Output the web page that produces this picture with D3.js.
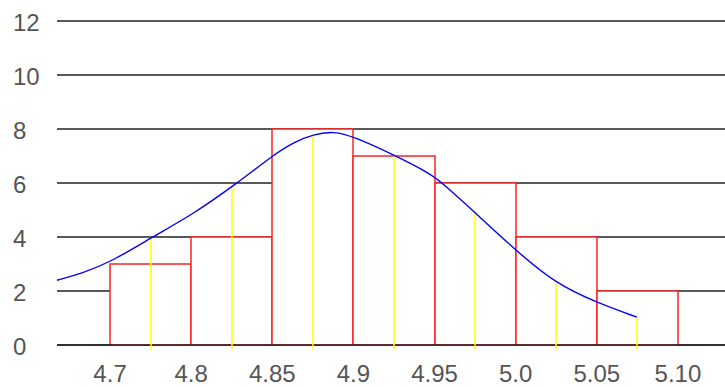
<!DOCTYPE html>
<meta charset="utf-8">
<title>Histogram with fitted curve</title>
<script src="https://d3js.org/d3.v7.min.js"></script>
<body style="margin:0; background:#fff;">
<div id="chart"></div>
</body>
<script>
// bins: left edge of each bar and its count
binStarts = [4.75, 4.80, 4.85, 4.90, 4.95, 5.00, 5.05]
binCounts = [3, 4, 8, 7, 6, 4, 2]
binWidth = 0.05

// x tick positions (bin edges) and the labels as printed
tickValues = [4.75, 4.80, 4.85, 4.90, 4.95, 5.00, 5.05, 5.10]
tickLabels = ["4.7", "4.8", "4.85", "4.9", "4.95", "5.0", "5.05", "5.10"]

yTicks = [0, 2, 4, 6, 8, 10, 12]

// fitted curve
curveX = [4.7173, 4.7326, 4.7510, 4.7757, 4.8003, 4.8270, 4.8506, 4.8640, 4.875, 4.888, 4.90, 4.925, 4.947, 4.955, 4.976, 5.0008, 5.025, 5.05, 5.0747]
curveY = [2.40, 2.65, 3.09, 3.99, 4.81, 5.93, 7.04, 7.53, 7.80, 7.92, 7.72, 7.04, 6.36, 5.99, 4.85, 3.46, 2.26, 1.57, 1.03]

// yellow markers at bin midpoints, up to the curve
midX = [4.775, 4.825, 4.875, 4.925, 4.975, 5.025, 5.075]
midY = [3.99, 5.88, 7.78, 7.04, 4.87, 2.26, 1.03]

width = 725
height = 387

x = d3.scaleLinear().domain([4.7173, 5.1290]).range([57, 725])
y = d3.scaleLinear().domain([0, 12]).range([345, 21])

svg = d3.select("#chart").append("svg")
    .attr("width", width)
    .attr("height", height)
    .style("display", "block")

// horizontal grid lines
svg.append("g")
  .selectAll("line")
  .data(yTicks)
  .join("line")
    .attr("x1", x.range()[0])
    .attr("x2", x.range()[1])
    .attr("y1", d => Math.round(y(d)))
    .attr("y2", d => Math.round(y(d)))
    .attr("stroke", "#222")
    .attr("stroke-width", 1.5)

// y labels
svg.append("g")
    .style("font-family", "'Liberation Sans', sans-serif")
    .style("font-size", "24px")
    .attr("fill", "#555")
  .selectAll("text")
  .data(yTicks)
  .join("text")
    .attr("x", 13)
    .attr("y", d => y(d) + 10)
    .text(d => d)

// bars
svg.append("g")
  .selectAll("rect")
  .data(binStarts)
  .join("rect")
    .attr("x", d => Math.round(x(d)))
    .attr("y", (d, i) => Math.round(y(binCounts[i])))
    .attr("width", d => Math.round(x(d + binWidth)) - Math.round(x(d)))
    .attr("height", (d, i) => Math.round(y(0)) - Math.round(y(binCounts[i])))
    .attr("fill", "#fff")
    .attr("stroke", "#f22")
    .attr("stroke-width", 1.5)

// baseline over the bar bottoms
svg.append("line")
    .attr("x1", x.range()[0])
    .attr("x2", x.range()[1])
    .attr("y1", Math.round(y(0)))
    .attr("y2", Math.round(y(0)))
    .attr("stroke", "#222")
    .attr("stroke-width", 1.5)

// yellow midpoint lines
svg.append("g")
  .selectAll("line")
  .data(midX)
  .join("line")
    .attr("x1", d => Math.round(x(d)))
    .attr("x2", d => Math.round(x(d)))
    .attr("y1", y(0) + 4)
    .attr("y2", (d, i) => y(midY[i]))
    .attr("stroke", "#ff0")
    .attr("stroke-width", 1.5)

// fitted curve
line = d3.line()
    .x(d => x(d[0]))
    .y(d => y(d[1]))
    .curve(d3.curveBasis)

svg.append("path")
    .datum(curveX.map((d, i) => [d, curveY[i]]))
    .attr("d", line)
    .attr("fill", "none")
    .attr("stroke", "#00f")
    .attr("stroke-width", 1.4)

// x labels
svg.append("g")
    .style("font-family", "'Liberation Sans', sans-serif")
    .style("font-size", "24px")
    .attr("fill", "#555")
  .selectAll("text")
  .data(tickValues)
  .join("text")
    .attr("x", d => x(d))
    .attr("y", 382)
    .attr("text-anchor", "middle")
    .text((d, i) => tickLabels[i])
</script>
